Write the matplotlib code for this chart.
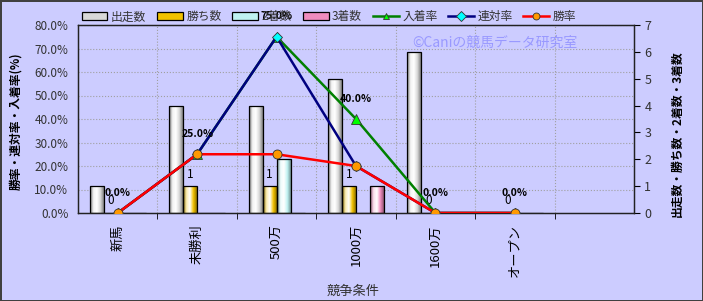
import numpy as np
import matplotlib
matplotlib.use("Agg")
import matplotlib.pyplot as plt
from matplotlib.colors import LinearSegmentedColormap, to_rgb
from matplotlib.patches import Patch
from matplotlib.lines import Line2D

plt.rcParams["font.family"] = ["Noto Sans CJK JP", "DejaVu Sans"]

categories = ["新馬", "未勝利", "500万", "1000万", "1600万", "オープン", ""]
starts = [1, 4, 4, 5, 6, 0]
wins = [0, 1, 1, 1, 0, 0]
seconds = [0, 0, 2, 0, 0, 0]
thirds = [0, 0, 0, 1, 0, 0]
win_rate = [0.0, 25.0, 25.0, 20.0, 0.0, 0.0]
rentai_rate = [0.0, 25.0, 75.0, 20.0, 0.0, 0.0]
place_rate = [0.0, 25.0, 75.0, 40.0, 0.0, 0.0]

bar_series = [("出走数", starts, "#d8d8d8"), ("勝ち数", wins, "#f2c200"),
              ("2着数", seconds, "#bff2f2"), ("3着数", thirds, "#f08cbe")]
line_series = [("入着率", place_rate, "#008000", "^", "#00ff00"),
               ("連対率", rentai_rate, "#000080", "D", "#00ffff"),
               ("勝率", win_rate, "#ff0000", "o", "#ff9900")]


def shade(color):
    c = np.array(to_rgb(color))
    return LinearSegmentedColormap.from_list(
        "s", [c * 0.55, c * 0.3 + 0.7, np.ones(3), c, c * 0.6])


fig = plt.figure(figsize=(7.03, 3.01), dpi=100)
fig.patch.set_facecolor("#ccccff")
fig.patch.set_edgecolor("#404040")
fig.patch.set_linewidth(2)

ax = fig.add_axes([78 / 703, 1 - 213 / 301, 556 / 703, 188 / 301])
axc = ax.twinx()
ax.set_zorder(axc.get_zorder() + 1)
ax.patch.set_visible(False)
axc.set_facecolor("#ffffcc")

n = len(categories)
x = np.arange(len(starts))
w = 0.176
grad = np.linspace(0, 1, 64).reshape(1, -1)
for i, (name, vals, col) in enumerate(bar_series):
    xs = x + (i - 1.5) * w
    bars = axc.bar(xs, vals, w, color=col, zorder=2)
    for b in bars:
        if b.get_height() <= 0:
            continue
        im = axc.imshow(grad, cmap=shade(col), aspect="auto", zorder=2.5,
                        extent=[b.get_x(), b.get_x() + w, 0, b.get_height()])
        im.set_clip_path(b)
    axc.bar(xs, vals, w, fill=False, edgecolor="black", lw=0.9, zorder=3)
    if name == "勝ち数":
        for xi, v in zip(xs, vals):
            axc.annotate(str(v), (xi, v), xytext=(0, 4), textcoords="offset points",
                         ha="center", va="bottom", fontsize=8.5, zorder=4)

axc.set_ylim(0, 7)
axc.set_yticks(range(8))
axc.tick_params(axis="y", labelsize=9, labelcolor="#333333", length=4, direction="out")
axc.set_ylabel("出走数・勝ち数・2着数・3着数", fontsize=8.5, fontweight="bold", rotation=90)
axc.yaxis.label.set_va("center")
axc.yaxis.set_label_coords(1.077, 0.42)

rate_ticks = np.arange(0, 81, 10)
for r in rate_ticks[1:]:
    axc.axhline(r / 80 * 7, color="#a0a0a0", ls=":", lw=0.8, zorder=1)
for b in np.arange(n - 1) + 0.5:
    axc.axvline(b, color="#a0a0a0", ls=":", lw=0.8, zorder=1)

for name, vals, col, mk, mcol in line_series:
    ax.plot(x, vals, color=col, lw=1.8, marker=mk, ms=6.5 if mk != "D" else 5,
            mfc=mcol, mec="#333333", mew=0.6, zorder=3)
for xi, v in zip(x, place_rate):
    ax.annotate(f"{v:.1f}%", (xi, v), xytext=(0, 11), textcoords="offset points",
                ha="center", va="bottom", fontsize=7.5, fontweight="bold", zorder=5)

ax.set_xlim(-0.5, n - 0.5)
ax.set_ylim(0, 80)
ax.set_yticks(rate_ticks)
ax.set_yticklabels([f"{t:.1f}%" for t in rate_ticks])
ax.tick_params(axis="y", labelsize=8.5, labelcolor="#333333", length=0, pad=7)
ax.set_xticks(np.arange(n))
ax.set_xticklabels(categories, rotation=90, fontsize=9.5)
ax.set_xticks(np.arange(n - 1) + 0.5, minor=True)
ax.tick_params(axis="x", which="major", length=0, pad=8)
ax.tick_params(axis="x", which="minor", length=4, direction="out")
ax.set_ylabel("勝率・連対率・入着率(%)", fontsize=8.5, fontweight="bold")
ax.yaxis.label.set_va("center")
ax.yaxis.set_label_coords(-0.1115, 0.489)
ax.set_xlabel("競争条件", fontsize=9.5, color="#333333")
ax.xaxis.set_label_coords(0.495, -0.383)
axc.set_xlim(-0.5, n - 0.5)
for a in (ax, axc):
    for s in a.spines.values():
        s.set_color("#222222")
        s.set_linewidth(0.9)

ax.text(0.75, 0.905, "©Caniの競馬データ研究室", transform=ax.transAxes,
        color="#9999ff", fontsize=10, ha="center", va="center", zorder=0)

handles = [Patch(facecolor=c, edgecolor="black", lw=0.9) for _, _, c in bar_series]
handles += [Line2D([], [], color=c, lw=1.8, marker=m, ms=5, mfc=mc, mec="#333333", mew=0.6)
            for _, _, c, m, mc in line_series]
labels = [s[0] for s in bar_series] + [s[0] for s in line_series]
fig.legend(handles, labels, loc="center", bbox_to_anchor=(0.468, 0.944), ncol=7,
           frameon=False, fontsize=8.5, handlelength=2.2, handleheight=0.6,
           handletextpad=0.3, columnspacing=0.9, labelcolor="#333333")

fig.savefig("out.png", dpi=100)
